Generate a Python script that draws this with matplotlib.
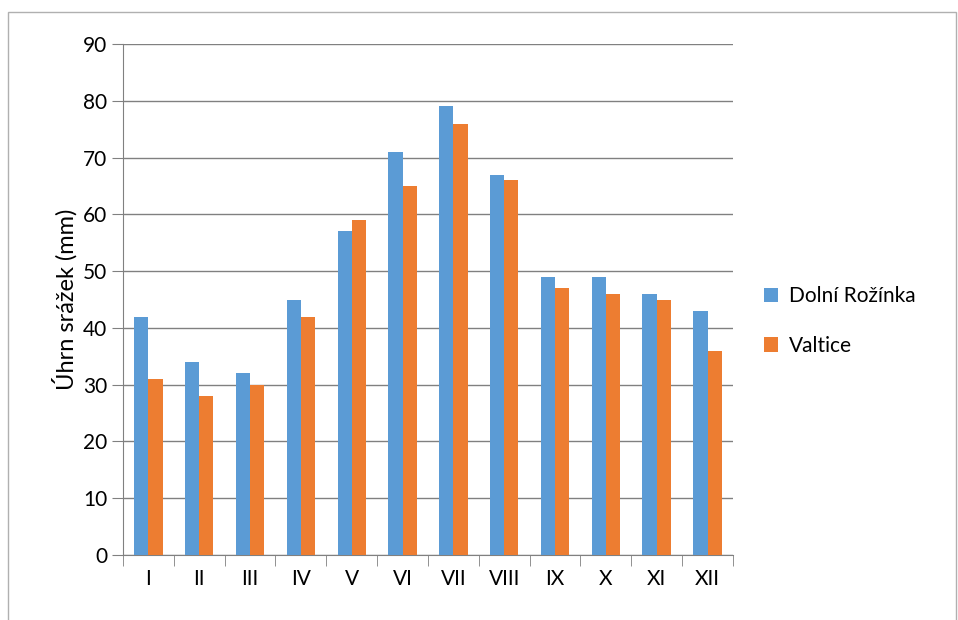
import numpy as np
import matplotlib.pyplot as plt
from matplotlib.patches import Rectangle

months = ['I', 'II', 'III', 'IV', 'V', 'VI', 'VII', 'VIII', 'IX', 'X', 'XI', 'XII']
dolni = [42, 34, 32, 45, 57, 71, 79, 67, 49, 49, 46, 43]
valtice = [31, 28, 30, 42, 59, 65, 76, 66, 47, 46, 45, 36]

plt.rcParams['font.family'] = ['Lato', 'DejaVu Sans']

fig = plt.figure(figsize=(9.58, 6.2), dpi=100)
fig.patches.append(Rectangle((0.008, -0.01), 0.99, 0.99, transform=fig.transFigure,
                             fill=False, edgecolor='#b0b0b0', linewidth=1))
ax = fig.add_axes([0.1284, 0.1048, 0.6367, 0.8242])

x = np.arange(len(months))
w = 0.28
ax.bar(x - w/2, dolni, w, color='#5B9BD5', label='Dolní Rožínka', zorder=3)
ax.bar(x + w/2, valtice, w, color='#ED7D31', label='Valtice', zorder=3)

ax.set_xlim(-0.5, 11.5)
ax.set_ylim(0, 90)
ax.set_yticks(range(0, 91, 10))
ax.set_xticks(x)
ax.set_xticklabels(months)
ax.set_xticks(np.arange(-0.5, 12, 1), minor=True)
ax.tick_params(axis='x', which='major', length=0, labelsize=15, pad=10)
ax.tick_params(axis='x', which='minor', length=8, color='#808080')
ax.tick_params(axis='y', length=8, color='#808080', labelsize=15)
ax.grid(axis='y', color='#808080', linewidth=1, zorder=0)
for s in ['top', 'right']:
    ax.spines[s].set_visible(False)
for s in ['left', 'bottom']:
    ax.spines[s].set_color('#808080')
ax.set_ylabel('Úhrn srážek (mm)', fontsize=17)

ax.legend(loc='center left', bbox_to_anchor=(1.02, 0.458), frameon=False,
          fontsize=15, handlelength=0.7, handleheight=0.7, labelspacing=1.4,
          handletextpad=0.5)

fig.savefig('out.png')
